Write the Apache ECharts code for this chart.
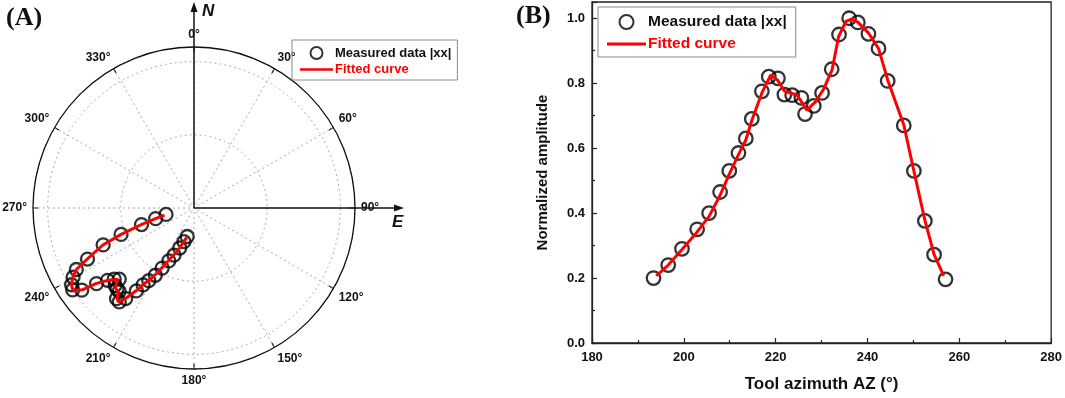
<!DOCTYPE html>
<html>
<head>
<meta charset="utf-8">
<script src="https://cdn.jsdelivr.net/npm/echarts@6/dist/echarts.min.js"></script>
<style>
  html, body { margin: 0; padding: 0; background: #fff; }
  #main { width: 1065px; height: 398px; }
</style>
</head>
<body>
<div id="main"></div>
<script>
// measured points (tool azimuth in degrees, normalized amplitude)
var azimuth = [193.4, 196.6, 199.6, 202.9, 205.5, 207.9, 209.9, 211.9, 213.5, 214.8,
  217.0, 218.5, 220.5, 221.9, 223.6, 225.6, 226.4, 228.3, 230.1, 232.2,
  233.8, 236.0, 237.9, 240.2, 242.4, 244.4, 247.9, 250.1, 252.5, 254.5, 257.0];
var amplitude = [0.20, 0.24, 0.29, 0.35, 0.40, 0.465, 0.53, 0.585, 0.63, 0.69,
  0.775, 0.82, 0.815, 0.765, 0.763, 0.755, 0.705, 0.73, 0.77, 0.843,
  0.95, 1.0, 0.987, 0.952, 0.907, 0.807, 0.67, 0.53, 0.376, 0.272, 0.196];

// fitted curve
var fitAzimuth = [194.0, 196.6, 199.6, 202.9, 205.5, 207.9, 209.9, 211.9, 213.5, 214.8,
  217.0, 218.9, 220.4, 221.9, 224.7, 226.8, 228.7, 230.5, 232.3, 233.7,
  235.3, 236.5, 237.9, 240.2, 242.4, 244.4, 247.9, 250.1, 252.5, 254.5, 256.6];
var fitAmplitude = [0.207, 0.24, 0.288, 0.342, 0.39, 0.455, 0.52, 0.58, 0.625, 0.685,
  0.77, 0.825, 0.81, 0.776, 0.763, 0.717, 0.743, 0.783, 0.842, 0.943,
  0.99, 0.997, 0.988, 0.955, 0.907, 0.81, 0.672, 0.53, 0.378, 0.273, 0.207];

// tick labels
var xTicks = [180, 200, 220, 240, 260, 280];
var yTicks = [0.0, 0.2, 0.4, 0.6, 0.8, 1.0];
var angleTicks = [0, 30, 60, 90, 120, 150, 180, 210, 240, 270, 300, 330];
var radiusRings = [0.5, 1.0];

var measuredName = 'Measured data |xx|';
var fittedName = 'Fitted curve';

var polarCenter = [194, 208];
var polarRadius = 161;

var chart = echarts.init(document.getElementById('main'));

function pairs(a, b) {
  var temp = [];
  for (var i = 0; i < a.length; i++) {
    temp.push([a[i], b[i]]);
  }
  return temp;
}

// polar data is [radius, angle]
function polarPairs(az, amp) {
  var temp = [];
  for (var i = 0; i < az.length; i++) {
    temp.push([amp[i], az[i]]);
  }
  return temp;
}

var font = 'Liberation Sans, Arial, sans-serif';
var serif = 'Liberation Serif, Times New Roman, serif';
var gridColor = '#a8a8a8';
// flat bar used as the legend icon of the fitted curve
var lineIcon = 'path://M0,0 L40,0 L40,3 L0,3 Z';

function makeLegend(left, top, padding, itemWidth, itemHeight, itemGap, fontSize) {
  return {
    orient: 'vertical',
    left: left,
    top: top,
    padding: padding,
    itemWidth: itemWidth,
    itemHeight: itemHeight,
    itemGap: itemGap,
    borderColor: '#8a8a8a',
    borderWidth: 1,
    selectedMode: false,
    data: [
      { name: measuredName, textStyle: { color: '#111' } },
      { name: fittedName, icon: lineIcon, textStyle: { color: '#ff0000' } }
    ],
    textStyle: { fontSize: fontSize, fontWeight: 'bold', fontFamily: font, padding: [0, 0, 0, -3] }
  };
}

var option = {
  animation: false,
  textStyle: { fontFamily: font },
  polar: {
    center: polarCenter,
    radius: polarRadius
  },
  angleAxis: {
    type: 'value',
    min: 0,
    max: 360,
    interval: angleTicks[1] - angleTicks[0],
    startAngle: 90,
    clockwise: true,
    axisLine: { lineStyle: { color: '#111', width: 1.3 } },
    axisTick: { show: true, inside: true, length: 5, lineStyle: { color: '#111', width: 1.2 } },
    axisLabel: {
      margin: 6,
      color: '#111',
      fontSize: 12,
      fontWeight: 'bold',
      fontFamily: font,
      formatter: function (v) {
        if (v >= 360) return '';
        return v + '°';
      }
    },
    splitLine: { show: true, lineStyle: { color: gridColor, type: [2, 3], width: 1 } }
  },
  radiusAxis: {
    type: 'value',
    min: 0,
    max: 1.1,
    interval: radiusRings[1] - radiusRings[0],
    axisLine: { show: false },
    axisTick: { show: false },
    axisLabel: { show: false },
    splitLine: { show: true, lineStyle: { color: gridColor, type: [2, 3], width: 1 } }
  },
  grid: {
    left: 592,
    right: 13,
    top: 2,
    bottom: 55,
    show: true,
    borderColor: '#222',
    borderWidth: 1.3,
    backgroundColor: 'transparent'
  },
  xAxis: {
    type: 'value',
    min: xTicks[0],
    max: xTicks[xTicks.length - 1],
    interval: xTicks[1] - xTicks[0],
    name: 'Tool azimuth AZ (°)',
    nameLocation: 'middle',
    nameGap: 33,
    nameTextStyle: { fontSize: 17, fontWeight: 'bold', color: '#111', fontFamily: font },
    axisLine: { onZero: false, lineStyle: { color: '#222', width: 1.3 } },
    axisTick: { inside: true, length: 5, lineStyle: { color: '#222', width: 1.2 } },
    minorTick: { show: true, splitNumber: 2, length: 3, lineStyle: { color: '#222', width: 1.2 } },
    axisLabel: { margin: 8, fontSize: 13, fontWeight: 'bold', color: '#111', fontFamily: font },
    splitLine: { show: false }
  },
  yAxis: {
    type: 'value',
    min: 0,
    max: 1.05,
    interval: yTicks[1] - yTicks[0],
    name: 'Normalized amplitude',
    nameLocation: 'middle',
    nameGap: 42,
    nameTextStyle: { fontSize: 15, fontWeight: 'bold', color: '#111', fontFamily: font },
    axisLine: { onZero: false, lineStyle: { color: '#222', width: 1.3 } },
    axisTick: { inside: true, length: 5, lineStyle: { color: '#222', width: 1.2 } },
    minorTick: { show: true, splitNumber: 2, length: 3, lineStyle: { color: '#222', width: 1.2 } },
    axisLabel: {
      margin: 7,
      fontSize: 13,
      fontWeight: 'bold',
      color: '#111',
      fontFamily: font,
      showMaxLabel: false,
      formatter: function (v) { return v.toFixed(1); }
    },
    splitLine: { show: false }
  },
  legend: [
    makeLegend(292, 40, [6, 6, 4, 8], 33, 12, 3, 13),
    makeLegend(598, 7, [7, 9, 5, 9], 39, 14, 6, 15.5)
  ],
  series: [
    {
      type: 'scatter',
      name: measuredName,
      coordinateSystem: 'polar',
      data: polarPairs(azimuth, amplitude),
      symbol: 'circle',
      symbolSize: 13,
      itemStyle: { color: 'rgba(255,255,255,0)', borderColor: '#000', borderWidth: 2.3 },
      z: 2
    },
    {
      type: 'line',
      name: fittedName,
      coordinateSystem: 'polar',
      data: polarPairs(fitAzimuth, fitAmplitude),
      symbol: 'none',
      lineStyle: { color: '#ff0000', width: 3 },
      itemStyle: { color: '#ff0000' },
      z: 3
    },
    {
      type: 'scatter',
      name: measuredName,
      data: pairs(azimuth, amplitude),
      symbol: 'circle',
      symbolSize: 13.5,
      itemStyle: { color: 'rgba(255,255,255,0)', borderColor: '#000', borderWidth: 2.3 },
      z: 2
    },
    {
      type: 'line',
      name: fittedName,
      data: pairs(fitAzimuth, fitAmplitude),
      symbol: 'none',
      lineStyle: { color: '#ff0000', width: 3 },
      itemStyle: { color: '#ff0000' },
      z: 3
    }
  ],
  graphic: [
    // N axis arrow
    {
      type: 'line',
      shape: { x1: polarCenter[0], y1: polarCenter[1], x2: polarCenter[0], y2: 8 },
      style: { stroke: '#111', lineWidth: 1.5 },
      z: 10
    },
    {
      type: 'polygon',
      shape: { points: [[polarCenter[0], 2], [polarCenter[0] - 3.5, 12], [polarCenter[0] + 3.5, 12]] },
      style: { fill: '#111' },
      z: 10
    },
    // E axis arrow
    {
      type: 'line',
      shape: { x1: polarCenter[0], y1: polarCenter[1], x2: 398, y2: polarCenter[1] },
      style: { stroke: '#111', lineWidth: 1.5 },
      z: 10
    },
    {
      type: 'polygon',
      shape: { points: [[404, polarCenter[1]], [394, polarCenter[1] - 3.5], [394, polarCenter[1] + 3.5]] },
      style: { fill: '#111' },
      z: 10
    },
    {
      type: 'text',
      left: 202,
      top: 3,
      style: { text: 'N', fontSize: 17, fontWeight: 'bold', fontStyle: 'italic', fill: '#111', fontFamily: font }
    },
    {
      type: 'text',
      left: 392,
      top: 214,
      style: { text: 'E', fontSize: 17, fontWeight: 'bold', fontStyle: 'italic', fill: '#111', fontFamily: font }
    },
    {
      type: 'text',
      left: 6,
      top: 5,
      style: { text: '(A)', fontSize: 26, fontWeight: 'bold', fill: '#111', fontFamily: serif }
    },
    {
      type: 'text',
      left: 516,
      top: 3,
      style: { text: '(B)', fontSize: 26, fontWeight: 'bold', fill: '#111', fontFamily: serif }
    }
  ]
};

chart.setOption(option);
</script>
</body>
</html>
